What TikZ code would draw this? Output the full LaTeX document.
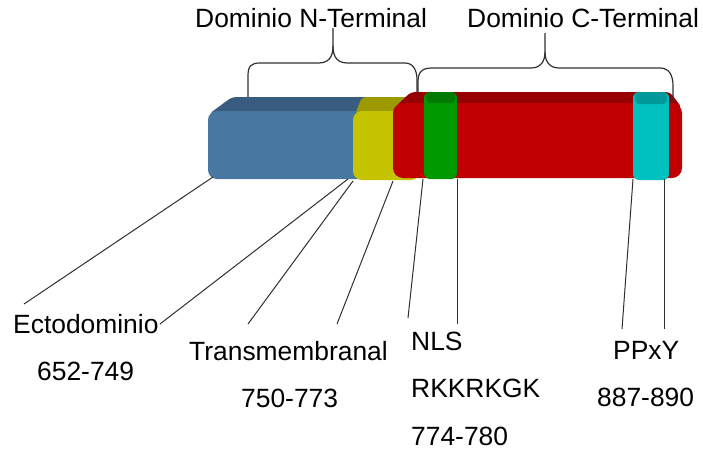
\documentclass[tikz,border=0pt]{standalone}
\usepackage{fontspec}
\setmainfont{Liberation Sans}
\definecolor{bluef}{HTML}{4878A0}
\definecolor{bluet}{HTML}{385C80}
\definecolor{yelf}{HTML}{C4C400}
\definecolor{yelt}{HTML}{9C9A00}
\definecolor{redf}{HTML}{C00000}
\definecolor{redt}{HTML}{960000}
\definecolor{grnf}{HTML}{009A00}
\definecolor{grnt}{HTML}{007A00}
\definecolor{cyaf}{HTML}{00C0C0}
\definecolor{cyat}{HTML}{009A9A}
\definecolor{linec}{HTML}{303030}
\tikzset{
  lbl/.style={inner sep=0pt, anchor=base west, font=\fontsize{26.4}{31}\selectfont},
  conn/.style={draw=linec, line width=1pt},
  bracec/.style={draw=linec, line width=1.2pt},
}
\begin{document}
\begin{tikzpicture}[x=1pt,y=-1pt]
\useasboundingbox (0,0) rectangle (703,450);
% blue ectodomain
\fill[bluet, rounded corners=4pt] (209,114) -- (232,97) -- (385,97) -- (385,114) -- cycle;
\fill[bluef, rounded corners=9pt] (208,111) rectangle (385,179);
% yellow transmembrane
\fill[yelt, rounded corners=4pt] (355,114) -- (362,97) -- (420,97) -- (420,114) -- cycle;
\fill[yelf, rounded corners=9pt] (353,111) rectangle (420,180);
% red C-terminal
\fill[redt, rounded corners=4pt] (395,107) -- (411,92) -- (670,92) -- (682,108) -- cycle;
\fill[redf, rounded corners=10pt] (393,103) rectangle (682,178);
% green NLS
\fill[grnf, rounded corners=6pt] (424,92) rectangle (457,179);
\fill[grnt, rounded corners=4pt] (426,92) rectangle (455,103);
% cyan PPxY
\fill[cyaf, rounded corners=6pt] (633,92) rectangle (669,180);
\fill[cyat, rounded corners=4pt] (635,92) rectangle (667,104);

% braces
\draw[bracec] (248,97) -- (248,76) .. controls (248,66) and (251,63) .. (260,63)
  -- (318,63) .. controls (328,63) and (333,58) .. (333,46) -- (333,28);
\draw[bracec] (333,46) .. controls (333,58) and (338,63) .. (348,63)
  -- (405,63) .. controls (413,63) and (417,70) .. (417,80) -- (417,92);
\draw[bracec] (418,92) -- (418,82) .. controls (418,72) and (422,68) .. (432,68)
  -- (531,68) .. controls (540,68) and (545,62) .. (545,52) -- (545,33);
\draw[bracec] (545,52) .. controls (545,62) and (550,68) .. (559,68)
  -- (660,68) .. controls (669,68) and (673,75) .. (673,86) -- (673,102);

% labels
\node[lbl] (nterm) at (195,27) {Dominio N-Terminal};
\node[lbl] (cterm) at (467,27) {Dominio C-Terminal};
\node[lbl] (ecto) at (13,333) {Ectodominio};
\node[lbl] (ectonum) at (37,380) {652-749};
\node[lbl] (tm) at (189,360) {Transmembranal};
\node[lbl] (tmnum) at (241,407) {750-773};
\node[lbl] (nls) at (411,350) {NLS};
\node[lbl] (nlsseq) at (411,397) {RKKRKGK};
\node[lbl] (nlsnum) at (411,445) {774-780};
\node[lbl] (ppxy) at (613,359) {PPxY};
\node[lbl] (ppxynum) at (597,406) {887-890};

% connector end points
\coordinate (b1) at (213,177);
\coordinate (b2) at (348,179);
\coordinate (b3) at (353,181);
\coordinate (b4) at (393,181);
\coordinate (b5) at (423,179);
\coordinate (b6) at (457,179);
\coordinate (b7) at (633,179);
\coordinate (b8) at (664,179);
\coordinate (t1) at (24,304);
\coordinate (t2) at (160,324);
\coordinate (t3) at (248,324);
\coordinate (t4) at (337,324);
\coordinate (t5) at (408,318);
\coordinate (t6) at (457,324);
\coordinate (t7) at (622,329);
\coordinate (t8) at (664,329);
\foreach \i in {1,...,8} { \draw[conn] (t\i) -- (b\i); }
\end{tikzpicture}
\end{document}
